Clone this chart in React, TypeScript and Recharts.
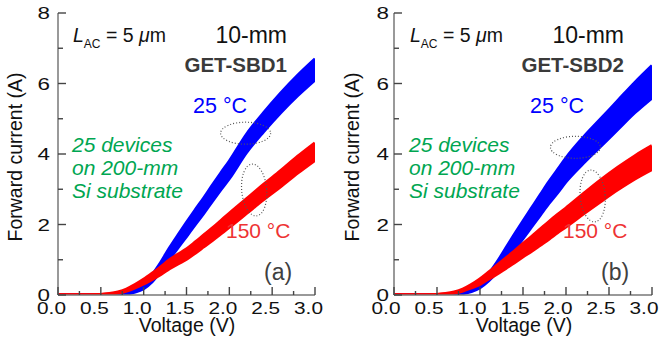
import React from 'react';
import { ComposedChart, Area, XAxis, YAxis, ReferenceDot } from 'recharts';

const voltage = [0, 0.25, 0.5, 0.6, 0.7, 0.8, 0.9, 1.0, 1.1, 1.2, 1.3, 1.4, 1.5, 1.6, 1.7, 1.8, 1.9, 2.0, 2.2, 2.4, 2.6, 2.8, 3.0];

// Panel (a) GET-SBD1 – envelope of the 25 device curves
const blueLowA = [0, 0, 0, 0.005, 0.01, 0.03, 0.08, 0.18, 0.38, 0.67, 1.01, 1.34, 1.66, 1.99, 2.31, 2.65, 2.98, 3.3, 4.04, 4.63, 5.17, 5.66, 6.1];
const blueHighA = [0, 0, 0, 0.005, 0.03, 0.07, 0.16, 0.32, 0.58, 0.93, 1.33, 1.7, 2.06, 2.41, 2.75, 3.11, 3.46, 3.8, 4.56, 5.17, 5.73, 6.24, 6.7];
const redLowA = [0, 0, 0.01, 0.025, 0.06, 0.12, 0.21, 0.32, 0.45, 0.59, 0.75, 0.89, 1.02, 1.19, 1.37, 1.55, 1.74, 1.93, 2.32, 2.71, 3.08, 3.47, 3.83];
const redHighA = [0, 0, 0.01, 0.035, 0.08, 0.16, 0.29, 0.44, 0.61, 0.79, 0.99, 1.15, 1.3, 1.49, 1.69, 1.89, 2.1, 2.31, 2.72, 3.13, 3.52, 3.93, 4.31];

// Panel (b) GET-SBD2
const blueLowB = [0, 0, 0, 0.005, 0.01, 0.04, 0.1, 0.21, 0.4, 0.66, 0.97, 1.28, 1.6, 1.93, 2.26, 2.59, 2.89, 3.21, 3.73, 4.21, 4.69, 5.17, 5.59];
const blueHighB = [0, 0, 0, 0.005, 0.03, 0.08, 0.18, 0.35, 0.6, 0.94, 1.33, 1.72, 2.1, 2.47, 2.84, 3.21, 3.55, 3.89, 4.47, 4.99, 5.51, 6.03, 6.51];
const redLowB = [0, 0, 0.01, 0.025, 0.06, 0.12, 0.21, 0.31, 0.46, 0.6, 0.76, 0.92, 1.09, 1.25, 1.42, 1.59, 1.77, 1.94, 2.3, 2.65, 2.99, 3.3, 3.57];
const redHighB = [0, 0, 0.01, 0.035, 0.08, 0.16, 0.29, 0.45, 0.64, 0.84, 1.04, 1.24, 1.45, 1.65, 1.86, 2.07, 2.27, 2.46, 2.86, 3.25, 3.61, 3.94, 4.23];

const xTicks = [0, 0.25, 0.5, 0.75, 1, 1.25, 1.5, 1.75, 2, 2.25, 2.5, 2.75, 3];
const yTicks = [0, 1, 2, 3, 4, 5, 6, 7, 8];

const FONT = '"Liberation Sans", Arial, sans-serif';
const FRAME = '#777777';
const TICK = '#444444';
const BLUE = '#0000ff';
const RED = '#ff0000';

const buildRows = (bl: number[], bh: number[], rl: number[], rh: number[]) =>
  voltage.map((v, i) => ({ v, blue: [bl[i], bh[i]], red: [rl[i], rh[i]] }));

const isMajorX = (v: number) => Math.abs(v * 2 - Math.round(v * 2)) < 1e-6;
const isMajorY = (v: number) => v % 2 === 0;

const BottomTick = (props: any) => {
  const { x, y, payload, shift } = props;
  const v = payload.value;
  const major = isMajorX(v);
  return (
    <g>
      <line x1={x} x2={x} y1={y} y2={y - (major ? 8 : 4)} stroke={TICK} strokeWidth={1.4} />
      {major && (
        <text transform={`translate(${x + shift},${y + 19}) scale(1.3,1)`} textAnchor="middle" fontSize={16} fontFamily={FONT} fill="#111">
          {v.toFixed(1)}
        </text>
      )}
    </g>
  );
};

const TopTick = (props: any) => {
  const { x, y, payload } = props;
  const major = isMajorX(payload.value);
  return <line x1={x} x2={x} y1={y} y2={y + (major ? 8 : 4)} stroke={TICK} strokeWidth={1.4} />;
};

const LeftTick = (props: any) => {
  const { x, y, payload, gap } = props;
  const v = payload.value;
  const major = isMajorY(v);
  return (
    <g>
      <line x1={x} x2={x + (major ? 8 : 5)} y1={y} y2={y} stroke={TICK} strokeWidth={1.4} />
      {major && (
        <text transform={`translate(${x - gap},${y + 6}) scale(1.4,1)`} textAnchor="end" fontSize={16} fontFamily={FONT} fill="#111">
          {v}
        </text>
      )}
    </g>
  );
};

const RightTick = (props: any) => {
  const { x, y, payload } = props;
  const major = isMajorY(payload.value);
  return <line x1={x} x2={x - (major ? 8 : 5)} y1={y} y2={y} stroke={TICK} strokeWidth={1.4} />;
};

const ellipseShape = (rx: number, ry: number, rot: number) => (p: any) => (
  <ellipse
    cx={p.cx}
    cy={p.cy}
    rx={rx}
    ry={ry}
    transform={`rotate(${rot},${p.cx},${p.cy})`}
    fill="none"
    stroke="#555"
    strokeWidth={1.2}
    strokeDasharray="1 2"
  />
);

type PanelProps = {
  rows: any[];
  width: number;
  marginRight: number;
  xShift: number;
  yGap: number;
  blueEll: [number, number];
  redEll: [number, number];
};

const Panel = ({ rows, width, marginRight, xShift, yGap, blueEll, redEll }: PanelProps) => (
  <ComposedChart width={width} height={352} data={rows} margin={{ top: 13, right: marginRight, bottom: 27, left: 0 }}>
    <XAxis
      xAxisId="b"
      dataKey="v"
      type="number"
      domain={[0, 3]}
      ticks={xTicks}
      interval={0}
      height={30}
      tickSize={0}
      tickMargin={0}
      tickLine={false}
      axisLine={{ stroke: FRAME, strokeWidth: 1.5 }}
      tick={<BottomTick shift={xShift} />}
      allowDataOverflow
    />
    <XAxis
      xAxisId="t"
      orientation="top"
      dataKey="v"
      type="number"
      domain={[0, 3]}
      ticks={xTicks}
      interval={0}
      height={0}
      tickSize={0}
      tickMargin={0}
      tickLine={false}
      axisLine={{ stroke: FRAME, strokeWidth: 1.5 }}
      tick={<TopTick />}
      allowDataOverflow
    />
    <YAxis
      yAxisId="l"
      type="number"
      domain={[0, 8]}
      ticks={yTicks}
      interval={0}
      width={58}
      tickSize={0}
      tickMargin={0}
      tickLine={false}
      axisLine={{ stroke: FRAME, strokeWidth: 1.5 }}
      tick={<LeftTick gap={yGap} />}
      allowDataOverflow
    />
    <YAxis
      yAxisId="r"
      orientation="right"
      type="number"
      domain={[0, 8]}
      ticks={yTicks}
      interval={0}
      width={0}
      tickSize={0}
      tickMargin={0}
      tickLine={false}
      axisLine={{ stroke: FRAME, strokeWidth: 1.5 }}
      tick={<RightTick />}
      allowDataOverflow
    />
    <Area xAxisId="b" yAxisId="l" type="monotone" dataKey="blue" fill={BLUE} fillOpacity={1} stroke={BLUE} strokeWidth={3} dot={false} activeDot={false} isAnimationActive={false} />
    <Area xAxisId="b" yAxisId="l" type="monotone" dataKey="red" fill={RED} fillOpacity={1} stroke={RED} strokeWidth={3.5} dot={false} activeDot={false} isAnimationActive={false} />
    <ReferenceDot xAxisId="b" yAxisId="l" x={blueEll[0]} y={blueEll[1]} shape={ellipseShape(25, 11, 0)} />
    <ReferenceDot xAxisId="b" yAxisId="l" x={redEll[0]} y={redEll[1]} shape={ellipseShape(12.5, 26, -5)} />
  </ComposedChart>
);

const Annot = ({ dx, name, tag }: { dx: number; name: string; tag: string }) => (
  <g fontFamily={FONT} transform={`translate(${dx},0)`}>
    <text x={73} y={42} fontSize={19.5} fill="#111">
      <tspan fontStyle="italic">L</tspan>
      <tspan fontSize={12} dy={6}>AC</tspan>
      <tspan dy={-6}> = 5 </tspan>
      <tspan fontStyle="italic">μ</tspan>
      <tspan>m</tspan>
    </text>
    <text x={287} y={43} fontSize={23} textAnchor="end" fill="#111">10-mm</text>
    <text x={287} y={72} fontSize={20.5} fontWeight="bold" textAnchor="end" fill="#3a3a3a">{name}</text>
    <text x={193} y={113} fontSize={21.5} fill={BLUE}>25 °C</text>
    <text x={226} y={238} fontSize={21} fill="#ee3333">150 °C</text>
    <text x={264} y={280} fontSize={23} fill="#404040">{tag}</text>
    <g fontStyle="italic" fontSize={21} fill="#00a651">
      <text x={72} y={152}>25 devices</text>
      <text x={72} y={175}>on 200-mm</text>
      <text x={72} y={198}>Si substrate</text>
    </g>
    <text transform={`translate(22,157) rotate(-90)`} textAnchor="middle" fontSize={19.5} fill="#111">Forward current (A)</text>
    <text x={187} y={332} textAnchor="middle" fontSize={19.5} fill="#111">Voltage (V)</text>
  </g>
);

export default function App() {
  const rowsA = buildRows(blueLowA, blueHighA, redLowA, redHighA);
  const rowsB = buildRows(blueLowB, blueHighB, redLowB, redHighB);
  return (
    <div style={{ position: 'absolute', left: 0, top: 0, width: 659, height: 352, background: '#fff', overflow: 'hidden' }}>
      <div style={{ position: 'absolute', left: 0, top: 0 }}>
        <Panel rows={rowsA} width={330} marginRight={15} xShift={-6.5} yGap={8} blueEll={[2.19, 4.59]} redEll={[2.29, 2.98]} />
      </div>
      <div style={{ position: 'absolute', left: 336, top: 0 }}>
        <Panel rows={rowsB} width={323} marginRight={7} xShift={-8} yGap={5} blueEll={[2.11, 4.19]} redEll={[2.31, 2.81]} />
      </div>
      <svg width={659} height={352} style={{ position: 'absolute', left: 0, top: 0, pointerEvents: 'none' }}>
        <Annot dx={0} name="GET-SBD1" tag="(a)" />
        <Annot dx={337} name="GET-SBD2" tag="(b)" />
      </svg>
    </div>
  );
}
